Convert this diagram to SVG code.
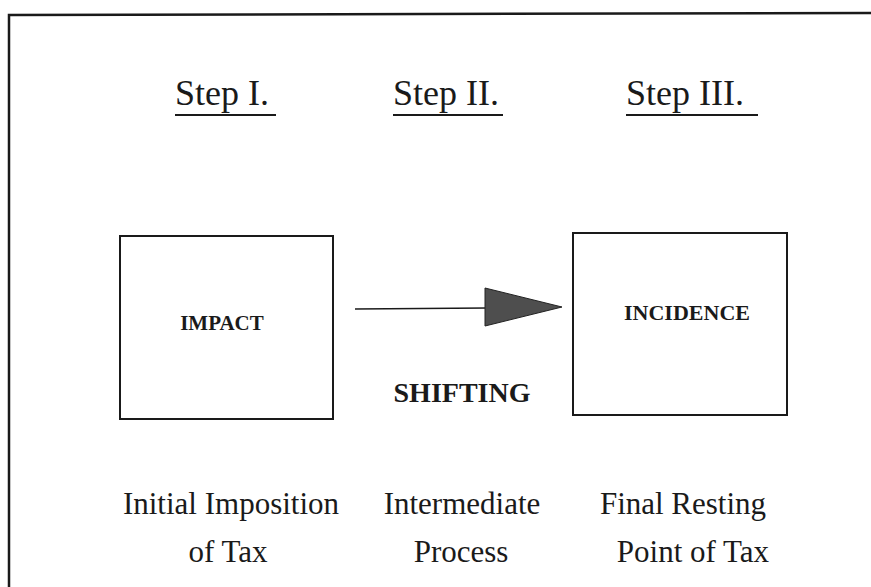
<svg xmlns="http://www.w3.org/2000/svg" width="871" height="587" viewBox="0 0 871 587">
<defs>
<style>
.txt{font-family:"Liberation Serif","Times New Roman",serif;fill:#1a1a1a}
.head{font-size:36px}
.cap{font-size:31px;text-anchor:middle}
.lbl{font-weight:bold;text-anchor:middle}
.box{fill:none;stroke:#1a1a1a;stroke-width:2}
.ul{stroke:#1a1a1a;stroke-width:2}
</style>
</defs>
<rect width="871" height="587" fill="#ffffff"/>
<g id="frame">
<polyline points="9,587 9,15 871,13" fill="none" stroke="#1a1a1a" stroke-width="2.5"/>
</g>
<g id="headings">
<text class="txt head" x="175" y="105">Step I.</text>
<line class="ul" x1="175" y1="115" x2="276" y2="115"/>
<text class="txt head" x="393" y="105">Step II.</text>
<line class="ul" x1="393" y1="115" x2="503" y2="115"/>
<text class="txt head" x="626" y="105">Step III.</text>
<line class="ul" x1="626" y1="115" x2="758" y2="115"/>
</g>
<g id="impact">
<rect class="box" x="120" y="236" width="213" height="183"/>
<text class="txt lbl" x="222" y="330" font-size="21">IMPACT</text>
</g>
<g id="incidence">
<rect class="box" x="573" y="233" width="214" height="182"/>
<text class="txt lbl" x="687" y="320" font-size="22">INCIDENCE</text>
</g>
<g id="connectors">
<line x1="355" y1="309" x2="487" y2="308" stroke="#1a1a1a" stroke-width="1.6"/>
<polygon points="485,288 562,307 485,326" fill="#4e4e4e" stroke="#222222" stroke-width="1"/>
</g>
<g id="shifting">
<text class="txt lbl" x="462" y="402" font-size="28">SHIFTING</text>
</g>
<g id="captions">
<text class="txt cap" x="231" y="514">Initial Imposition</text>
<text class="txt cap" x="228" y="562">of Tax</text>
<text class="txt cap" x="462" y="514">Intermediate</text>
<text class="txt cap" x="461" y="562">Process</text>
<text class="txt cap" x="683" y="514">Final Resting</text>
<text class="txt cap" x="693" y="562">Point of Tax</text>
</g>
</svg>
